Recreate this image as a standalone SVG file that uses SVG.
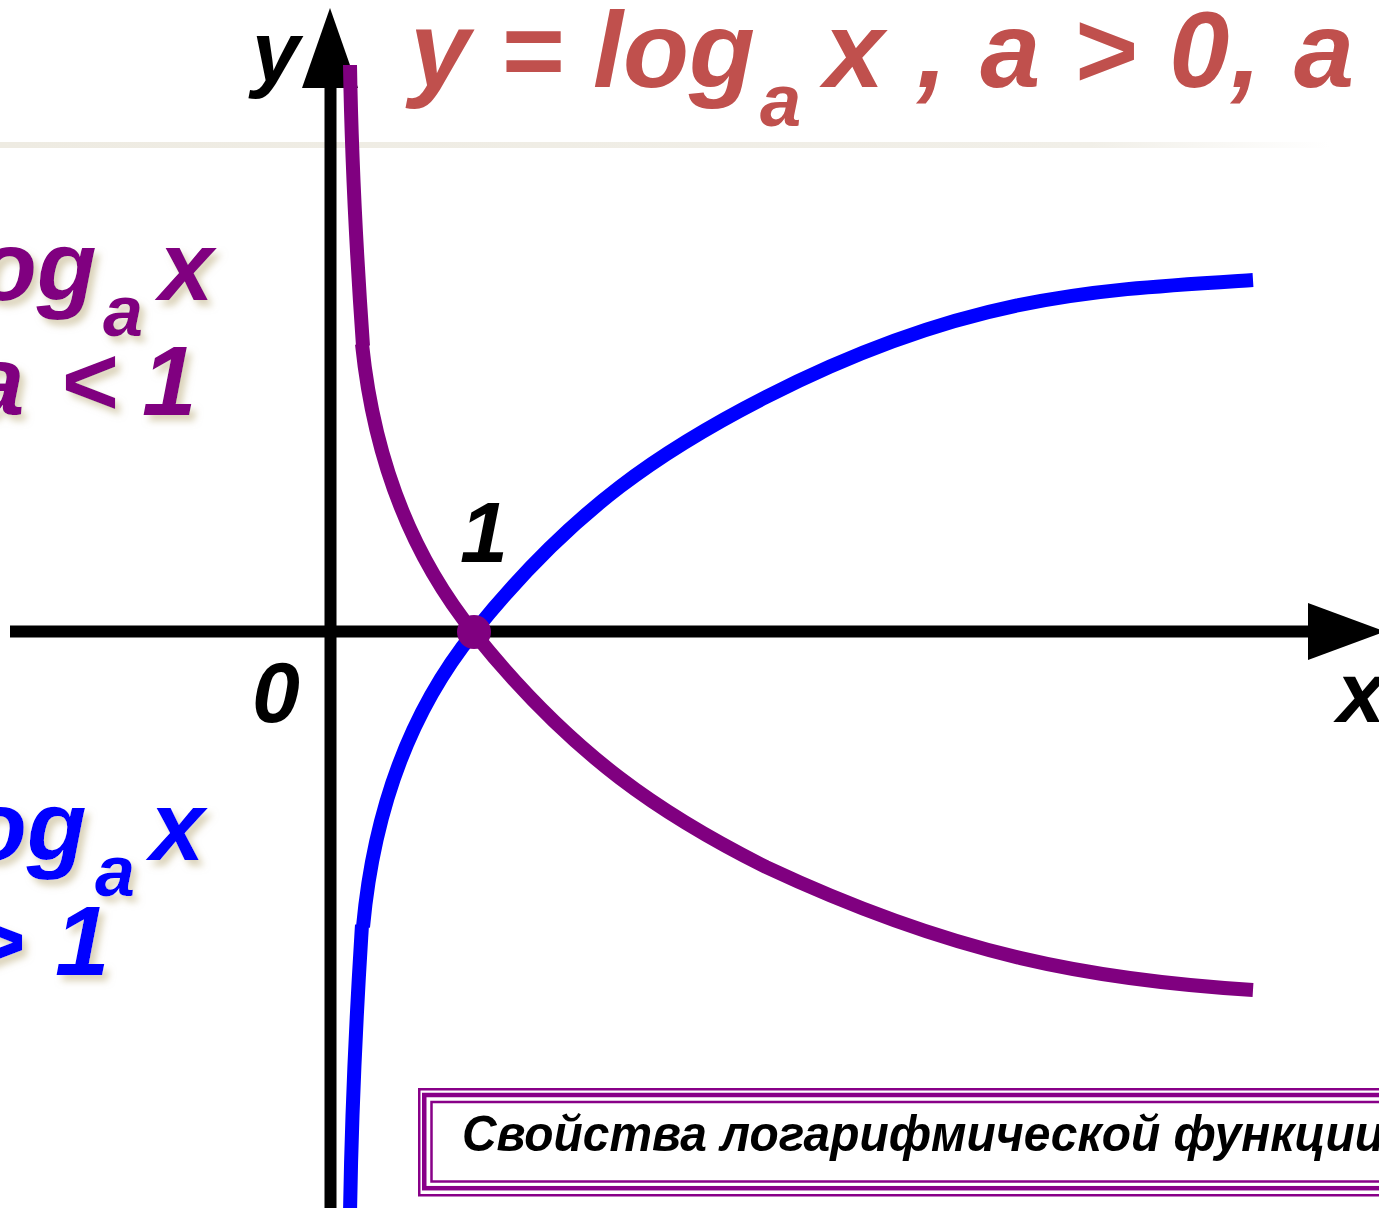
<svg xmlns="http://www.w3.org/2000/svg" width="1379" height="1208" viewBox="0 0 1379 1208">
<defs>
<linearGradient id="sep" x1="0" y1="0" x2="1" y2="0">
<stop offset="0" stop-color="#eeebe2"/>
<stop offset="0.82" stop-color="#f1efe8"/>
<stop offset="1" stop-color="#ffffff"/>
</linearGradient>
<filter id="shadow" x="-20%" y="-20%" width="150%" height="160%">
<feGaussianBlur in="SourceAlpha" stdDeviation="3.5" result="b"/>
<feOffset in="b" dx="5" dy="6" result="o"/>
<feFlood flood-color="#cfc4a2" flood-opacity="0.75"/>
<feComposite in2="o" operator="in" result="s"/>
<feMerge><feMergeNode in="s"/><feMergeNode in="SourceGraphic"/></feMerge>
</filter>
</defs>
<style>
.t{font-family:"Liberation Sans",Arial,sans-serif;font-weight:bold;font-style:italic}
.title{fill:#c0504d;font-size:108px}
.pl{fill:#800080;font-size:98px}
.bl{fill:#0000ff;font-size:98px}
.ax{fill:#000;font-size:86px}
.axis{stroke:#000;stroke-width:12;fill:none}
.curve{fill:none;stroke-width:14;stroke-linecap:butt}
.frame{fill:none;stroke:#880088}
</style>
<rect width="1379" height="1208" fill="#ffffff"/>
<rect id="separator" x="0" y="142" width="1330" height="6" fill="url(#sep)"/>

<g id="axes">
<line class="axis" x1="330.5" y1="80" x2="330.5" y2="1212"/>
<polygon points="330,8 302,88 358,88" fill="#000"/>
<line class="axis" x1="10" y1="631.5" x2="1312" y2="631.5"/>
<polygon points="1308,603 1308,660 1385,631.5" fill="#000"/>
</g>

<g id="curves">
<g id="blue-curve">
<path class="curve" stroke="#0000ff" d="M350,1215 C352,1080 358,990 362,925"/>
<path class="curve" stroke="#0000ff" d="M363,927 C376,786 424,694 474,632 C574,507 666,448 766,397 C966,295 1093,290 1253,280"/>
</g>
<g id="purple-curve">
<path class="curve" stroke="#800080" d="M350,65 C352,185 358,275 363,346"/>
<path class="curve" stroke="#800080" d="M362,344 C376,479 424,571 474,633 C574,758 666,817 766,867 C956,956 1093,980 1253,990"/>
</g>
<circle id="point-1-0" cx="474" cy="632" r="17" fill="#800080"/>
</g>

<g id="axis-labels">
<text class="t ax" x="252" y="81">y</text>
<text class="t ax" x="1337" y="722" font-size="88">x</text>
<text class="t ax" x="252" y="722" font-size="80">0</text>
<text class="t ax" x="460" y="562">1</text>
</g>

<g id="title">
<text class="t title"><tspan x="410" y="87" textLength="345" lengthAdjust="spacing">y = log</tspan><tspan x="760" y="126" font-size="74">a</tspan><tspan x="824" y="87" textLength="530" lengthAdjust="spacing">x , a &gt; 0, a</tspan></text>
</g>

<g id="label-purple" filter="url(#shadow)">
<text class="t pl"><tspan x="-23" y="300">og</tspan><tspan x="103" y="336" font-size="72">a</tspan><tspan x="159" y="300">x</tspan></text>
<text class="t pl" y="415"><tspan x="-30">a</tspan> <tspan x="60">&lt;</tspan> <tspan x="142">1</tspan></text>
</g>

<g id="label-blue" filter="url(#shadow)">
<text class="t bl"><tspan x="-33" y="860">og</tspan><tspan x="95" y="896" font-size="72">a</tspan><tspan x="150" y="860">x</tspan></text>
<text class="t bl" y="975"><tspan x="-33">&gt;</tspan> <tspan x="55">1</tspan></text>
</g>

<g id="properties-box">
<rect x="419.25" y="1089.25" width="1100" height="106" fill="#ffffff" class="frame" stroke-width="2.5"/>
<rect x="424.25" y="1095" width="1100" height="93.2" class="frame" stroke-width="4.5"/>
<rect x="431.5" y="1102" width="1100" height="79.5" fill="#e1edd7" class="frame" stroke-width="2.5"/>
<text class="t" x="462" y="1151" font-size="50" fill="#000" textLength="922" lengthAdjust="spacingAndGlyphs">Свойства логарифмической функции</text>
</g>
</svg>
